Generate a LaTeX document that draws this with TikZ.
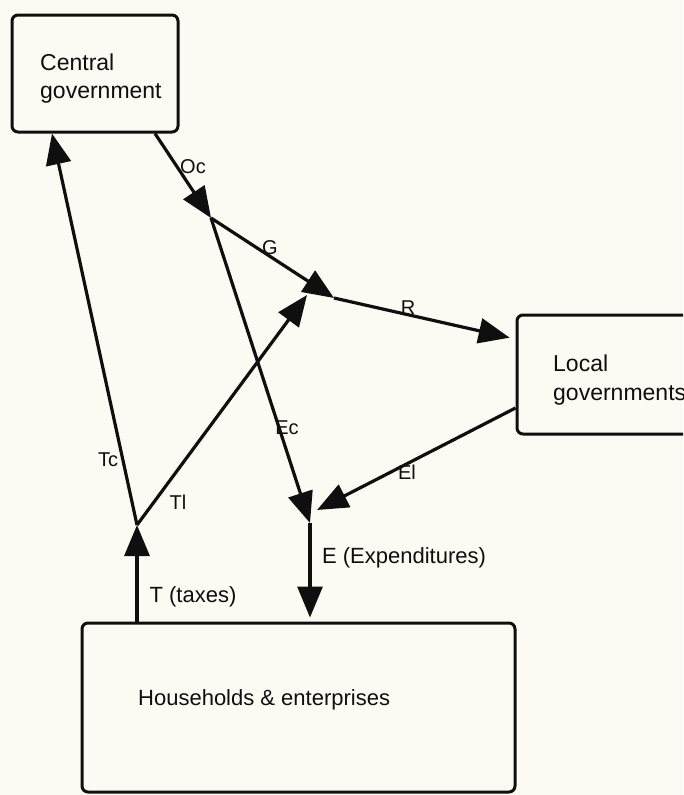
\documentclass[tikz,border=0pt]{standalone}
\usepackage{fontspec}
\setmainfont{Liberation Sans}
\usetikzlibrary{arrows.meta}
\definecolor{paper}{RGB}{251,251,243}
\definecolor{ink}{RGB}{15,15,15}
\begin{document}
\begin{tikzpicture}[x=1pt,y=-1pt,
  box/.style={draw=ink, line width=3pt, rounded corners=6pt, inner sep=0pt},
  boxtext/.style={anchor=west, inner sep=0pt, font=\fontsize{23}{26}\selectfont, text=ink},
  bigtext/.style={inner sep=0pt, font=\fontsize{22}{25}\selectfont, text=ink},
  lbl/.style={inner sep=0pt, font=\fontsize{20}{23}\selectfont, text=ink},
  arr/.style={draw=ink, line width=3.2pt, -{Triangle[length=31pt,width=25pt]}}]
\fill[paper] (0,0) rectangle (683,795);
\clip (0,0) rectangle (683,795);
\useasboundingbox (0,0) rectangle (683,795);

% boxes
\node[box, minimum width=166pt, minimum height=117pt] (cg) at (95,73.5) {};
\node[box, minimum width=203pt, minimum height=119pt] (lg) at (618.5,374.5) {};
\node[box, minimum width=433pt, minimum height=169pt] (he) at (298.5,707.5) {};

% box texts
\node[boxtext] (cg1) at (40,62) {Central};
\node[boxtext] (cg2) at (40,93) {government};
\node[boxtext] (lg1) at (553,363) {Local};
\node[boxtext] (lg2) at (553,395) {governments};
\node[boxtext, font=\fontsize{22}{25}\selectfont] (he1) at (138,700) {Households \& enterprises};

% junction points
\coordinate (K) at (211,218);
\coordinate (J) at (334,298);
\coordinate (Tj) at (137,525);
\coordinate (Ej) at (310,523);
\coordinate (Tlend) at (307,295);
\coordinate (Elend) at (317,510);

% connectors
\draw[arr] ([xshift=60pt]cg.south) -- (K);
\draw[arr] (K) -- (J);
\draw[arr, shorten >=6pt] (J) -- ([yshift=35.5pt]lg.west);
\draw[arr] (K) -- (Ej);
\draw[arr] ([yshift=-33.5pt]lg.west) -- (Elend);
\draw[arr, shorten >=4pt] (Ej) -- (he.north -| Ej);
\draw[arr] (he.north -| Tj) -- (Tj);
\draw[arr] (Tj) -- ([xshift=-43pt]cg.south);
\draw[arr] (Tj) -- (Tlend);

% labels
\node[lbl] (lOc) at (193,167) {Oc};
\node[lbl] (lG) at (270,248) {G};
\node[lbl] (lR) at (408,308) {R};
\node[lbl] (lEc) at (287,428) {Ec};
\node[lbl] (lEl) at (407,472) {El};
\node[lbl] (lTc) at (108,460) {Tc};
\node[lbl] (lTl) at (178,502) {Tl};
\node[bigtext] (lE) at (404,558) {E (Expenditures)};
\node[bigtext] (lT) at (193,597) {T (taxes)};
\end{tikzpicture}
\end{document}
